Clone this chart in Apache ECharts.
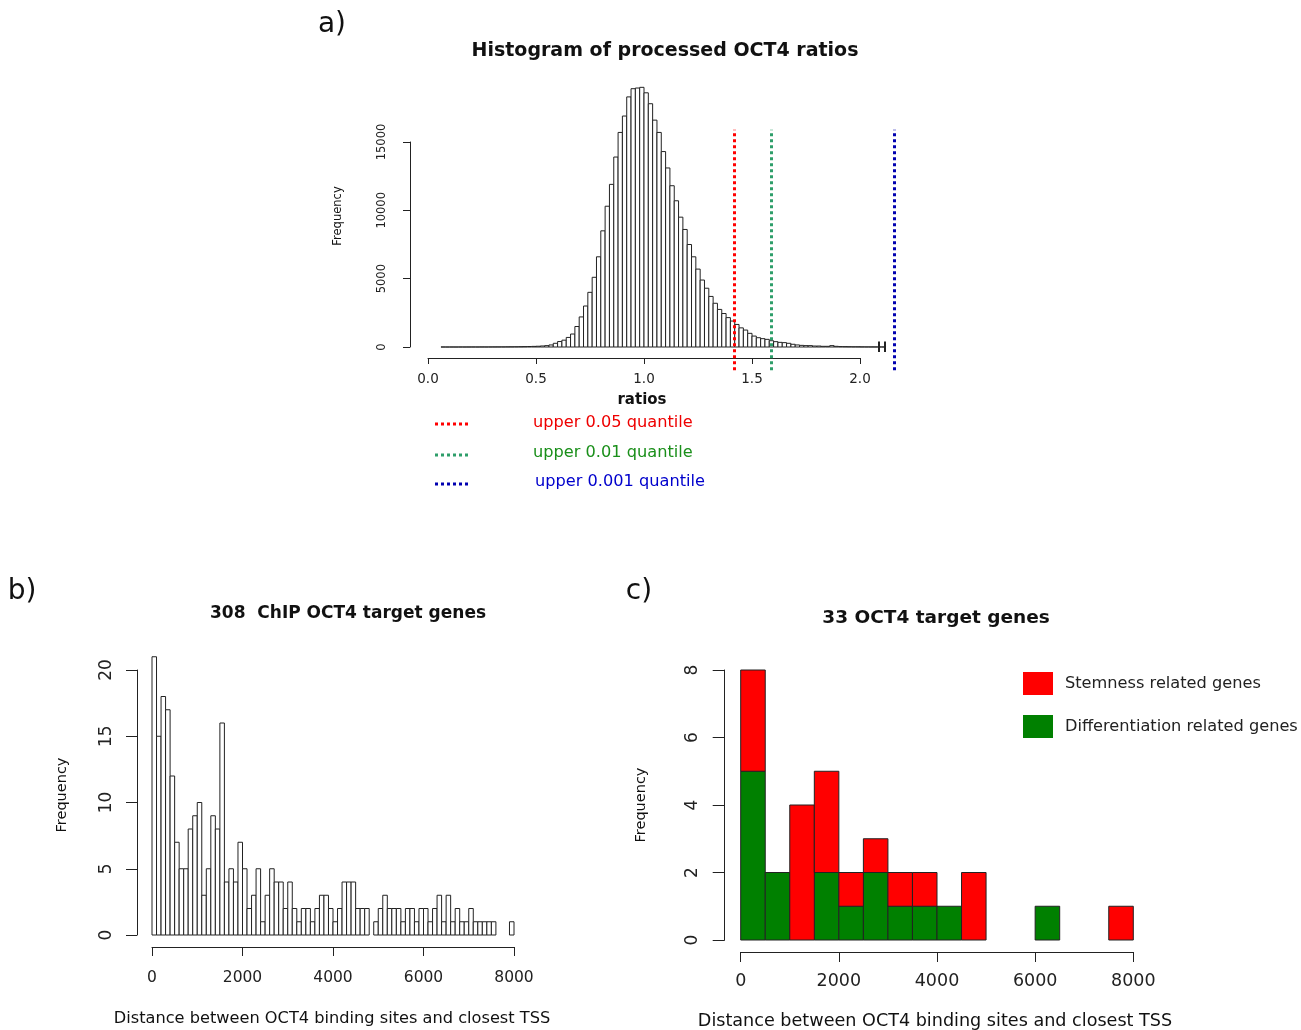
<!DOCTYPE html>
<html><head><meta charset="utf-8">
<script src="https://cdn.jsdelivr.net/npm/echarts@6/dist/echarts.min.js"></script>
<style>html,body{margin:0;padding:0;background:#fff}#c{width:1301px;height:1030px}</style>
</head><body><div id="c"></div>
<script>
// ---------- DATA ----------
// a) histogram of processed OCT4 ratios (bins of 0.02 starting at 0.06)
const ratioBinStart = 0.06;
const ratioBinWidth = 0.02;
const ratioCounts = [
  1,0,1,0,2,1,2,3,2,4,3,5,6,8,9,12,14,18,22,28,35,
  45,55,75,100,
  150,270,400,500,700,950,1500,2200,3000,4000,5100,6600,8500,10300,11900,13900,15700,16900,18300,18900,18950,19000,
  18600,17800,16600,15700,14300,13100,11800,10700,9500,8600,7500,6600,5700,4900,4300,3700,3200,2750,2450,2150,1900,1650,1400,
  1240,1000,800,680,610,560,460,390,340,320,270,200,150,120,100,100,70,70,50,50,100,50,30,25,20,15,15,10,8,6,5,4,3
];
const ratioTickLabels = ['0.0','0.5','1.0','1.5','2.0'];
const ratioFreqTickLabels = ['0','5000','10000','15000'];
const quantileValues = [1.42, 1.59, 2.16];
const quantileLabels = ['upper 0.05 quantile','upper 0.01 quantile','upper 0.001 quantile'];
const quantileLineColors = ['#ff0000','#2e9e6a','#0000b0'];
const quantileTextColors = ['#ee0000','#1a8f1a','#0000cc'];
const axisBreakAt = [2.085, 2.115];

// b) 308 ChIP OCT4 target genes (bins of 100 bp)
const distBinWidth = 100;
const distCounts = [
  21,15,18,17,12,7,5,5,8,9,10,3,5,9,8,16,4,5,4,7,5,2,3,5,1,3,5,
  4,4,2,4,2,1,2,2,1,2,3,3,2,1,2,4,4,4,2,2,2,
  0,1,2,3,2,2,2,1,2,2,1,2,2,1,2,
  3,1,3,1,2,1,1,2,1,1,1,1,1,0,0,0,1
];
const distTickLabels = ['0','2000','4000','6000','8000'];
const distFreqTickLabels = ['0','5','10','15','20'];

// c) 33 OCT4 target genes (bins of 500 bp), stacked
const geneBinWidth = 500;
const seriesNames = ['Stemness related genes','Differentiation related genes'];
const stemCounts = [3,0,4,3,1,1,1,1,0,2,0,0,0,0,0,1];
const diffCounts = [5,2,0,2,1,2,1,1,1,0,0,0,1,0,0,0];
const geneTickLabels = ['0','2000','4000','6000','8000'];
const geneFreqTickLabels = ['0','2','4','6','8'];

// ---------- LAYOUT ----------
const FONT = '"DejaVu Sans", sans-serif';
const INK = '#222';
function mapper(p0, p1, v0, v1){ const k=(p1-p0)/(v1-v0); return v => p0 + (v - v0)*k; }
function gridBox(px, py, xr, yr){
  const l=px(xr[0]), r=px(xr[1]), t=py(yr[1]), b=py(yr[0]);
  return {left:l, top:t, width:r-l, height:b-t, containLabel:false, outerBoundsMode:'none'};
}
const pxA = mapper(428, 860, 0, 2),      pyA = mapper(347, 142, 0, 15000);
const pxB = mapper(152, 514, 0, 8000),   pyB = mapper(935, 670, 0, 20);
const pxC = mapper(740.7, 1133.3, 0, 8000), pyC = mapper(940, 670, 0, 8);

const grids = [
  gridBox(pxA, pyA, [0,2], [0,15000]),
  gridBox(pxA, pyA, [0,2.3], [-2500,20500]),
  gridBox(pxB, pyB, [0,8000], [0,20]),
  gridBox(pxB, pyB, [0,8000], [0,22]),
  gridBox(pxC, pyC, [0,8000], [0,8]),
  gridBox(pxC, pyC, [0,8000], [0,8.5])
];

function visX(gi, min, max, interval, labels, fs, margin, tick, offset){
  return {type:'value', gridIndex:gi, min, max, interval, position:'bottom', offset,
    axisLine:{show:true, onZero:false, lineStyle:{color:INK, width:1}},
    axisTick:{show:true, length:tick, lineStyle:{color:INK, width:1}},
    axisLabel:{show:true, margin, fontSize:fs, fontFamily:FONT, color:INK, showMinLabel:true, showMaxLabel:true,
      formatter:v => labels[Math.round((v-min)/interval)]},
    splitLine:{show:false}};
}
function visY(gi, min, max, interval, labels, fs, margin, tick, offset){
  return {type:'value', gridIndex:gi, min, max, interval, position:'left', offset,
    axisLine:{show:true, onZero:false, lineStyle:{color:INK, width:1}},
    axisTick:{show:true, length:tick, lineStyle:{color:INK, width:1}},
    axisLabel:{show:true, rotate:90, margin, fontSize:fs, fontFamily:FONT, color:INK, showMinLabel:true, showMaxLabel:true,
      formatter:v => labels[Math.round((v-min)/interval)]},
    splitLine:{show:false}};
}
function hidden(gi, min, max){ return {type:'value', gridIndex:gi, min, max, show:false, splitLine:{show:false}}; }

const xAxes = [
  visX(0, 0, 2, 0.5, ratioTickLabels, 13.5, 14, 6, 11),
  hidden(1, 0, 2.3),
  visX(2, 0, 8000, 2000, distTickLabels, 15.5, 23, 9, 12),
  hidden(3, 0, 8000),
  visX(4, 0, 8000, 2000, geneTickLabels, 17.5, 20, 10, 12),
  hidden(5, 0, 8000)
];
const yAxes = [
  visY(0, 0, 15000, 5000, ratioFreqTickLabels, 11.5, 22, 7, 18),
  hidden(1, -2500, 20500),
  visY(2, 0, 20, 5, distFreqTickLabels, 17, 22, 11, 15),
  hidden(3, 0, 22),
  visY(4, 0, 8, 2, geneFreqTickLabels, 17, 24, 12, 16),
  hidden(5, 0, 8.5)
];

function rectItem(params, api){
  const p0 = api.coord([api.value(0), api.value(3)]);
  const p1 = api.coord([api.value(1), api.value(2)]);
  return {type:'rect', shape:{x:p0[0], y:p0[1], width:p1[0]-p0[0], height:p1[1]-p0[1]},
    style:{fill:api.visual('color'), stroke:INK, lineWidth:1}};
}

const ratioData = ratioCounts.map((c,i) => [ratioBinStart+i*ratioBinWidth, ratioBinStart+(i+1)*ratioBinWidth, 0, c]);
const distData = distCounts.map((c,i) => [i*distBinWidth, (i+1)*distBinWidth, 0, c]).filter(d => d[3] > 0);
const diffData = diffCounts.map((c,i) => [i*geneBinWidth, (i+1)*geneBinWidth, 0, c]).filter(d => d[3] > 0);
const stemData = stemCounts.map((c,i) => [i*geneBinWidth, (i+1)*geneBinWidth, diffCounts[i], diffCounts[i]+c]).filter(d => d[3] > d[2]);

const qLines = quantileValues.map((q,i) => [
  {coord:[q, -1700], lineStyle:{color:quantileLineColors[i], width:3, type:[3,3]}},
  {coord:[q, 15900]}
]);
const breakLines = axisBreakAt.map(b => [
  {coord:[b, -360], lineStyle:{color:INK, width:2, type:'solid'}},
  {coord:[b, 400]}
]);

const series = [
  {type:'custom', name:'ratios', xAxisIndex:1, yAxisIndex:1, renderItem:rectItem, data:ratioData,
   encode:{x:[0,1], y:[2,3]}, itemStyle:{color:'#ffffff'}, silent:true,
   markLine:{silent:true, symbol:['none','none'], label:{show:false}, animation:false, data:qLines.concat(breakLines)}},
  {type:'custom', name:'distance', xAxisIndex:3, yAxisIndex:3, renderItem:rectItem, data:distData,
   encode:{x:[0,1], y:[2,3]}, itemStyle:{color:'#ffffff'}, silent:true},
  {type:'custom', name:seriesNames[1], xAxisIndex:5, yAxisIndex:5, renderItem:rectItem, data:diffData,
   encode:{x:[0,1], y:[2,3]}, itemStyle:{color:'#008000'}, silent:true},
  {type:'custom', name:seriesNames[0], xAxisIndex:5, yAxisIndex:5, renderItem:rectItem, data:stemData,
   encode:{x:[0,1], y:[2,3]}, itemStyle:{color:'#ff0000'}, silent:true}
];

function txt(text, x, y, size, opts){
  opts = opts || {};
  return {type:'text', x, y, rotation: opts.rot || 0, silent:true,
    style:{text, x:0, y:0, fill: opts.color || '#111',
      font: (opts.bold ? 'bold ' : '') + size + 'px ' + FONT,
      align: opts.align || 'center', verticalAlign:'middle',
      textAlign: opts.align || 'center', textVerticalAlign:'middle'}};
}
const graphics = [
  txt('a)', 332, 25, 28),
  txt('b)', 22, 592, 28),
  txt('c)', 639, 592, 28),
  txt('Histogram of processed OCT4 ratios', 665, 51, 19, {bold:true}),
  txt('308  ChIP OCT4 target genes', 348, 614, 17, {bold:true}),
  txt('33 OCT4 target genes', 936, 618, 18.5, {bold:true}),
  txt('Frequency', 338, 216, 11.5, {rot:Math.PI/2}),
  txt('Frequency', 62, 795, 14.5, {rot:Math.PI/2}),
  txt('Frequency', 641, 805, 14.5, {rot:Math.PI/2}),
  txt('ratios', 642, 400, 15, {bold:true}),
  txt('Distance between OCT4 binding sites and closest TSS', 332, 1019, 16.2),
  txt('Distance between OCT4 binding sites and closest TSS', 935, 1021, 17.6)
];
const legendLineY = [424, 455, 484];
const legendTextX = [533, 533, 535];
const legendTextY = [423, 453, 482];
quantileLabels.forEach((lab,i) => {
  graphics.push({type:'line', silent:true, shape:{x1:435, y1:legendLineY[i], x2:471, y2:legendLineY[i]},
    style:{stroke:quantileLineColors[i], lineWidth:3, lineDash:[3,3]}});
  graphics.push(txt(lab, legendTextX[i], legendTextY[i], 16.2, {align:'left', color:quantileTextColors[i]}));
});

const chart = echarts.init(document.getElementById('c'), null, {renderer:'canvas'});
chart.setOption({
  animation:false,
  backgroundColor:'#ffffff',
  grid:grids,
  xAxis:xAxes,
  yAxis:yAxes,
  legend:{data:[seriesNames[0], seriesNames[1]], orient:'vertical', left:1023, top:672, padding:0,
    itemWidth:30, itemHeight:23, itemGap:20, icon:'rect', selectedMode:false,
    itemStyle:{borderWidth:0},
    textStyle:{fontFamily:FONT, fontSize:16.2, color:'#222', padding:[0,0,0,7]}},
  series,
  graphic:graphics
});
</script></body></html>
